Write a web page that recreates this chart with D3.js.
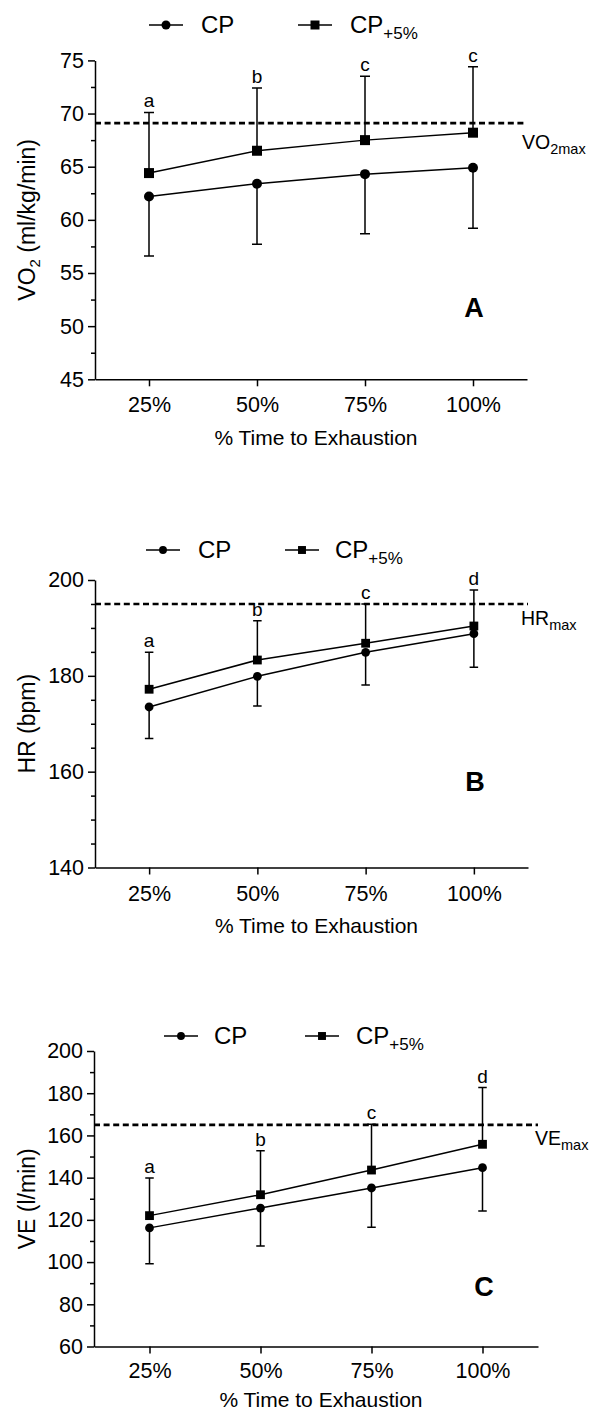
<!DOCTYPE html>
<html>
<head>
<meta charset="utf-8">
<script src="https://cdn.jsdelivr.net/npm/d3@7"></script>
<style>
  body { margin: 0; background: #fff; }
  svg { font-family: "Liberation Sans", Arial, sans-serif; }
</style>
</head>
<body>
<script>
// time points on the x axis
var timePoints = [25, 50, 75, 100];
var tickLabels = ["25%", "50%", "75%", "100%"];

// panel A: VO2 (ml/kg/min)
var vo2CP = [62.2, 63.4, 64.3, 64.9];
var vo2CPsd = [5.6, 5.7, 5.6, 5.7];
var vo2CP5 = [64.4, 66.5, 67.5, 68.2];
var vo2CP5sd = [5.7, 5.9, 6.0, 6.2];
var vo2Letters = ["a", "b", "c", "c"];
var vo2Max = 69.1;
var vo2Ticks = [45, 50, 55, 60, 65, 70, 75];

// panel B: HR (bpm)
var hrCP = [173.5, 179.9, 184.9, 188.8];
var hrCPsd = [6.6, 6.2, 6.8, 7.0];
var hrCP5 = [177.2, 183.3, 186.8, 190.4];
var hrCP5sd = [7.7, 8.2, 8.2, 7.5];
var hrLetters = ["a", "b", "c", "d"];
var hrMax = 195;
var hrTicks = [140, 160, 180, 200];

// panel C: VE (l/min)
var veCP = [116.2, 125.6, 135.1, 144.7];
var veCPsd = [17.0, 18.0, 18.6, 20.5];
var veCP5 = [122.0, 131.9, 143.6, 155.8];
var veCP5sd = [17.8, 20.9, 21.7, 26.9];
var veLetters = ["a", "b", "c", "d"];
var veMax = 165;
var veTicks = [60, 80, 100, 120, 140, 160, 180, 200];

var svg = d3.select("body").append("svg")
  .attr("width", 593)
  .attr("height", 1410);

drawPanel({
  left: 95, right: 527, top: 60.4, bottom: 379.3,
  domain: [45, 75], ticks: vo2Ticks, minorStep: 2.5,
  cp: vo2CP, cpSd: vo2CPsd, cp5: vo2CP5, cp5Sd: vo2CP5sd,
  letters: vo2Letters, max: vo2Max,
  maxMain: "VO", maxSub: "2max", maxX: 522, maxDy: 26,
  title: ["VO", "2", " (ml/kg/min)"],
  panel: "A", panelX: 474, panelY: 317,
  legendY: 25, legend: [166, 201, 315, 350],
  marker: 5, cap: 10, tickLabelDy: 33, titleDy: 66
});

drawPanel({
  left: 95, right: 528, top: 580, bottom: 867.5,
  domain: [140, 200], ticks: hrTicks, minorStep: 5,
  cp: hrCP, cpSd: hrCPsd, cp5: hrCP5, cp5Sd: hrCP5sd,
  letters: hrLetters, max: hrMax,
  maxMain: "HR", maxSub: "max", maxX: 521, maxDy: 21,
  title: ["HR (bpm)", "", ""],
  panel: "B", panelX: 475, panelY: 791,
  legendY: 550, legend: [163, 198, 302, 335],
  marker: 4.4, cap: 8.5, tickLabelDy: 33, titleDy: 65
});

drawPanel({
  left: 94, right: 538, top: 1051, bottom: 1346.5,
  domain: [60, 200], ticks: veTicks, minorStep: 10,
  cp: veCP, cpSd: veCPsd, cp5: veCP5, cp5Sd: veCP5sd,
  letters: veLetters, max: veMax,
  maxMain: "VE", maxSub: "max", maxX: 535, maxDy: 20,
  title: ["VE (l/min)", "", ""],
  panel: "C", panelX: 484, panelY: 1296,
  legendY: 1036, legend: [181, 214, 322, 356],
  marker: 4.4, cap: 8.5, tickLabelDy: 31, titleDy: 60
});

function drawPanel(p) {
  var g = svg.append("g");

  // scales
  var x = d3.scaleLinear().domain([12.5, 112.5]).range([p.left, p.right]);
  var y = d3.scaleLinear().domain(p.domain).range([p.bottom, p.top]);

  // minor ticks on y axis
  var minors = d3.range(p.domain[0], p.domain[1] + 0.001, p.minorStep)
    .filter(function(v) { return p.ticks.indexOf(v) < 0; });
  g.append("g")
    .attr("transform", "translate(" + p.left + ",0)")
    .call(d3.axisLeft(y).tickValues(minors).tickSize(4).tickSizeOuter(0).tickFormat(""))
    .call(function(a) { a.select(".domain").remove(); })
    .selectAll("line").attr("stroke-width", 1.5);

  // y axis
  var yAxis = g.append("g")
    .attr("transform", "translate(" + p.left + ",0)")
    .call(d3.axisLeft(y).tickValues(p.ticks).tickSize(7).tickSizeOuter(0).tickPadding(4));
  yAxis.selectAll("path, line").attr("stroke-width", 1.5);
  yAxis.selectAll("text").attr("font-size", 21.5).attr("font-family", null).attr("fill", "#000");

  // x axis
  var xAxis = g.append("g")
    .attr("transform", "translate(0," + p.bottom + ")")
    .call(d3.axisBottom(x).tickValues(timePoints).tickSize(7).tickSizeOuter(0)
      .tickFormat(function(d, i) { return tickLabels[i]; }));
  xAxis.selectAll("path, line").attr("stroke-width", 1.5);
  xAxis.selectAll("text").attr("font-size", 21.5).attr("font-family", null).attr("fill", "#000")
    .attr("y", p.tickLabelDy).attr("dy", 0);

  // x title
  g.append("text")
    .attr("x", (p.left + p.right) / 2 + 5)
    .attr("y", p.bottom + p.titleDy)
    .attr("text-anchor", "middle")
    .attr("font-size", 21)
    .text("% Time to Exhaustion");

  // y title
  var yt = g.append("text")
    .attr("transform", "translate(35," + (p.top + p.bottom) / 2 + ") rotate(-90)")
    .attr("text-anchor", "middle")
    .attr("font-size", 23);
  yt.append("tspan").text(p.title[0]);
  if (p.title[1]) {
    yt.append("tspan").attr("font-size", 15).attr("dy", 5).text(p.title[1]);
    yt.append("tspan").attr("dy", -5).text(p.title[2]);
  }

  // dashed max line
  g.append("line")
    .attr("x1", p.left).attr("x2", p.right)
    .attr("y1", y(p.max)).attr("y2", y(p.max))
    .attr("stroke", "#000")
    .attr("stroke-width", 2.6)
    .attr("stroke-dasharray", "6,3.6");

  var maxText = g.append("text")
    .attr("x", p.maxX)
    .attr("y", y(p.max) + p.maxDy)
    .attr("font-size", 19.5);
  maxText.append("tspan").text(p.maxMain);
  maxText.append("tspan").attr("font-size", 14.5).attr("dy", 5).text(p.maxSub);

  var cpData = timePoints.map(function(t, i) { return {t: t, v: p.cp[i], sd: p.cpSd[i]}; });
  var cp5Data = timePoints.map(function(t, i) { return {t: t, v: p.cp5[i], sd: p.cp5Sd[i], l: p.letters[i]}; });

  // error bars: CP downward, CP+5% upward
  g.selectAll(".errLow").data(cpData).enter().append("path")
    .attr("d", function(d) {
      var cx = x(d.t), y0 = y(d.v), y1 = y(d.v - d.sd);
      return "M" + cx + "," + y0 + "V" + y1 + "M" + (cx - p.cap / 2) + "," + y1 + "H" + (cx + p.cap / 2);
    })
    .attr("fill", "none").attr("stroke", "#000").attr("stroke-width", 1.5);

  g.selectAll(".errHigh").data(cp5Data).enter().append("path")
    .attr("d", function(d) {
      var cx = x(d.t), y0 = y(d.v), y1 = y(d.v + d.sd);
      return "M" + cx + "," + y0 + "V" + y1 + "M" + (cx - p.cap / 2) + "," + y1 + "H" + (cx + p.cap / 2);
    })
    .attr("fill", "none").attr("stroke", "#000").attr("stroke-width", 1.5);

  // significance letters
  g.selectAll(".letter").data(cp5Data).enter().append("text")
    .attr("x", function(d) { return x(d.t); })
    .attr("y", function(d) { return y(d.v + d.sd) - 5; })
    .attr("text-anchor", "middle")
    .attr("font-size", 19)
    .text(function(d) { return d.l; });

  // lines
  var line = d3.line()
    .x(function(d) { return x(d.t); })
    .y(function(d) { return y(d.v); });

  g.append("path").datum(cpData).attr("d", line)
    .attr("fill", "none").attr("stroke", "#000").attr("stroke-width", 1.5);
  g.append("path").datum(cp5Data).attr("d", line)
    .attr("fill", "none").attr("stroke", "#000").attr("stroke-width", 1.5);

  // markers
  g.selectAll(".dot").data(cpData).enter().append("circle")
    .attr("cx", function(d) { return x(d.t); })
    .attr("cy", function(d) { return y(d.v); })
    .attr("r", p.marker);

  var s = p.marker * 2;
  g.selectAll(".sq").data(cp5Data).enter().append("rect")
    .attr("x", function(d) { return x(d.t) - s / 2; })
    .attr("y", function(d) { return y(d.v) - s / 2; })
    .attr("width", s).attr("height", s);

  // panel letter
  g.append("text")
    .attr("x", p.panelX).attr("y", p.panelY)
    .attr("text-anchor", "middle")
    .attr("font-size", 27).attr("font-weight", "bold")
    .text(p.panel);

  // legend
  var lg = g.append("g");
  lg.append("line")
    .attr("x1", p.legend[0] - 17).attr("x2", p.legend[0] + 17)
    .attr("y1", p.legendY).attr("y2", p.legendY)
    .attr("stroke", "#000").attr("stroke-width", 1.5);
  lg.append("circle").attr("cx", p.legend[0]).attr("cy", p.legendY).attr("r", p.marker * 0.9);
  lg.append("text").attr("x", p.legend[1]).attr("y", p.legendY + 8)
    .attr("font-size", 24).text("CP");

  lg.append("line")
    .attr("x1", p.legend[2] - 17).attr("x2", p.legend[2] + 17)
    .attr("y1", p.legendY).attr("y2", p.legendY)
    .attr("stroke", "#000").attr("stroke-width", 1.5);
  lg.append("rect")
    .attr("x", p.legend[2] - s * 0.45).attr("y", p.legendY - s * 0.45)
    .attr("width", s * 0.9).attr("height", s * 0.9);
  var t5 = lg.append("text").attr("x", p.legend[3]).attr("y", p.legendY + 8)
    .attr("font-size", 24);
  t5.append("tspan").text("CP");
  t5.append("tspan").attr("font-size", 17).attr("dy", 6).text("+5%");
}
</script>
</body>
</html>
